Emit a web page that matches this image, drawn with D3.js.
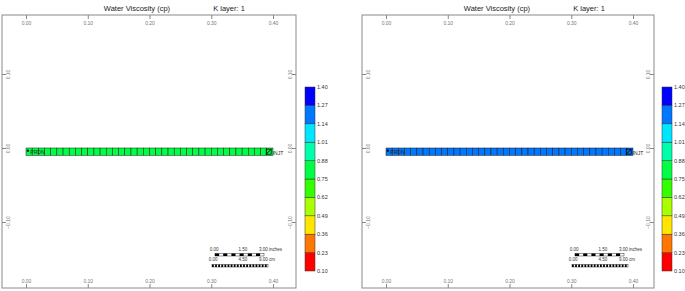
<!DOCTYPE html>
<html>
<head>
<meta charset="utf-8">
<script src="https://cdn.jsdelivr.net/npm/d3@7"></script>
<style>
  body { margin: 0; background: #fff; }
  svg { display: block; font-family: "Liberation Sans", Arial, sans-serif; }
</style>
</head>
<body>
<svg id="chart" width="685" height="291"></svg>
<script>
// chart data
const title = "Water Viscosity (cp)";
const layerLabel = "K layer: 1";
const xTicks = [0.00, 0.10, 0.20, 0.30, 0.40];
const yTicks = [0.10, 0.00, -0.10];
const levels = [0.10, 0.23, 0.36, 0.49, 0.62, 0.75, 0.88, 1.01, 1.14, 1.27, 1.40];
const bandColors = ["#ff0000", "#ff7700", "#ffe600", "#aaff00", "#33ff00",
                    "#00ff44", "#00ffaa", "#00e6ff", "#0077ff", "#0000ff"];
// one row of 40 grid blocks, 0.01 wide, each panel
const leftVisc = [0.80, 0.80, 0.80, 0.80, 0.80, 0.80, 0.80, 0.80, 0.80, 0.80,
                  0.80, 0.80, 0.80, 0.80, 0.80, 0.80, 0.80, 0.80, 0.80, 0.80,
                  0.80, 0.80, 0.80, 0.80, 0.80, 0.80, 0.80, 0.80, 0.80, 0.80,
                  0.80, 0.80, 0.80, 0.80, 0.80, 0.80, 0.80, 0.80, 0.80, 0.80];
const rightVisc = [1.20, 1.20, 1.20, 1.20, 1.20, 1.20, 1.20, 1.20, 1.20, 1.20,
                   1.20, 1.20, 1.20, 1.20, 1.20, 1.20, 1.20, 1.20, 1.20, 1.20,
                   1.20, 1.20, 1.20, 1.20, 1.20, 1.20, 1.20, 1.20, 1.20, 1.20,
                   1.20, 1.20, 1.20, 1.20, 1.20, 1.20, 1.20, 1.20, 1.20, 1.20];
const wellNames = ["PRDN", "INJT"];
const wellX = [0.003, 0.393];
const inchLabels = ["0.00", "1.50", "3.00 inches"];
const cmLabels = ["0.00", "4.50", "9.00 cm"];

const cellW = 0.01;
const svg = d3.select("#chart");
const color = d3.scaleThreshold(levels.slice(1, -1), bandColors);

const drawPanel = ({ left, width, cbX, values }) => {
  const top = 15, bottom = 288;
  const g = svg.append("g");

  const x = d3.scaleLinear().domain([0, 0.4]).range([left + 24, left + 271]);
  const y = d3.scaleLinear().domain([-0.1, 0.1]).range([222, 74]);

  // title
  g.append("text").attr("x", left + 135).attr("y", 11)
    .attr("text-anchor", "middle").attr("font-size", 7.5).attr("fill", "#222")
    .text(title);
  g.append("text").attr("x", left + 227).attr("y", 11)
    .attr("text-anchor", "middle").attr("font-size", 7.5).attr("fill", "#222")
    .text(layerLabel);

  // frame
  g.append("rect").attr("x", left).attr("y", top)
    .attr("width", width).attr("height", bottom - top)
    .attr("fill", "none").attr("stroke", "#8a8a8a").attr("stroke-width", 1);

  const fmt = d3.format(".2f");
  const styleAxis = (sel) => {
    sel.select(".domain").remove();
    sel.selectAll("line").attr("stroke", "#888");
    sel.selectAll("text").attr("fill", "#777").attr("font-size", 5)
      .attr("font-family", "Liberation Sans, Arial, sans-serif");
  };

  g.append("g").attr("transform", `translate(0,${top})`)
    .call(d3.axisBottom(x).tickValues(xTicks).tickFormat(fmt).tickSize(4).tickPadding(2))
    .call(styleAxis);
  g.append("g").attr("transform", `translate(0,${bottom})`)
    .call(d3.axisTop(x).tickValues(xTicks).tickFormat(fmt).tickSize(4).tickPadding(1))
    .call(styleAxis);

  const yl = g.append("g").attr("transform", `translate(${left},0)`)
    .call(d3.axisRight(y).tickValues(yTicks).tickFormat(fmt).tickSize(4))
    .call(styleAxis);
  yl.selectAll("text").attr("x", 0).attr("dy", 0)
    .attr("text-anchor", "middle")
    .attr("transform", "translate(8,0) rotate(-90)");
  const yr = g.append("g").attr("transform", `translate(${left + width},0)`)
    .call(d3.axisLeft(y).tickValues(yTicks).tickFormat(fmt).tickSize(4))
    .call(styleAxis);
  yr.selectAll("text").attr("x", 0).attr("dy", 0)
    .attr("text-anchor", "middle")
    .attr("transform", "translate(-4,0) rotate(-90)");

  // grid blocks
  g.append("g").selectAll("rect").data(values).join("rect")
    .attr("x", (d, i) => x(i * cellW))
    .attr("y", y(0))
    .attr("width", x(cellW) - x(0))
    .attr("height", y(-cellW) - y(0))
    .attr("fill", (d) => color(d))
    .attr("stroke", "#1a1a1a").attr("stroke-width", 0.5);

  // wells
  const wy = y(-cellW / 2);
  g.append("rect").attr("x", x(wellX[0]) - 1).attr("y", wy - 2)
    .attr("width", 2).attr("height", 2).attr("fill", "#000");
  g.append("text").attr("x", x(wellX[0]) + 2.5).attr("y", wy + 2.5)
    .attr("font-size", 5).attr("fill", "#222").text(wellNames[0]);
  const ix = x(wellX[1]);
  g.append("rect").attr("x", ix - 2.5).attr("y", wy - 2.5)
    .attr("width", 5).attr("height", 5).attr("fill", "none")
    .attr("stroke", "#000").attr("stroke-width", 0.7);
  g.append("line").attr("x1", ix - 2.5).attr("y1", wy + 2.5)
    .attr("x2", ix + 2.5).attr("y2", wy - 2.5)
    .attr("stroke", "#000").attr("stroke-width", 1);
  g.append("text").attr("x", ix + 4).attr("y", wy + 3)
    .attr("font-size", 5).attr("fill", "#222").text(wellNames[1]);

  // scale bar
  const sb = g.append("g").attr("transform", `translate(${left + 210},0)`);
  sb.selectAll("text.in").data(inchLabels).join("text")
    .attr("x", (d, i) => [2, 31, 47][i]).attr("y", 251)
    .attr("text-anchor", (d, i) => i === 2 ? "start" : "middle")
    .attr("font-size", 4.5).attr("fill", "#333").text((d) => d);
  sb.append("rect").attr("x", 3).attr("y", 253.5).attr("width", 49).attr("height", 2.5)
    .attr("fill", "#fff").attr("stroke", "#000").attr("stroke-width", 0.4);
  sb.selectAll("rect.dash").data(d3.range(6)).join("rect")
    .attr("x", (d) => 3 + d * 8.2).attr("y", 253.5).attr("width", 4.1).attr("height", 2.5)
    .attr("fill", "#000");
  sb.selectAll("text.cm").data(cmLabels).join("text")
    .attr("x", (d, i) => [1, 31, 47][i]).attr("y", 261)
    .attr("text-anchor", (d, i) => i === 2 ? "start" : "middle")
    .attr("font-size", 4.5).attr("fill", "#333").text((d) => d);
  sb.append("rect").attr("x", 0).attr("y", 264.5).attr("width", 56).attr("height", 2.5)
    .attr("fill", "#fff").attr("stroke", "#000").attr("stroke-width", 0.4);
  sb.selectAll("rect.chk").data(d3.range(18)).join("rect")
    .attr("x", (d) => d * 3.11).attr("y", 264.5).attr("width", 1.8).attr("height", 2.5)
    .attr("fill", "#000");

  // colour bar
  const cy = d3.scaleLinear().domain([levels[0], levels[levels.length - 1]]).range([271, 87]);
  const cb = g.append("g");
  cb.selectAll("rect").data(bandColors).join("rect")
    .attr("x", cbX).attr("y", (d, i) => cy(levels[i + 1]))
    .attr("width", 10).attr("height", (d, i) => cy(levels[i]) - cy(levels[i + 1]))
    .attr("fill", (d) => d).attr("stroke", "#333").attr("stroke-width", 0.5);
  cb.selectAll("text").data(levels).join("text")
    .attr("x", cbX + 12).attr("y", (d) => cy(d) + 2)
    .attr("font-size", 5.5).attr("fill", "#333").text((d) => fmt(d));
};

drawPanel({ left: 2, width: 294, cbX: 305, values: leftVisc });
drawPanel({ left: 362, width: 292, cbX: 662, values: rightVisc });
</script>
</body>
</html>
